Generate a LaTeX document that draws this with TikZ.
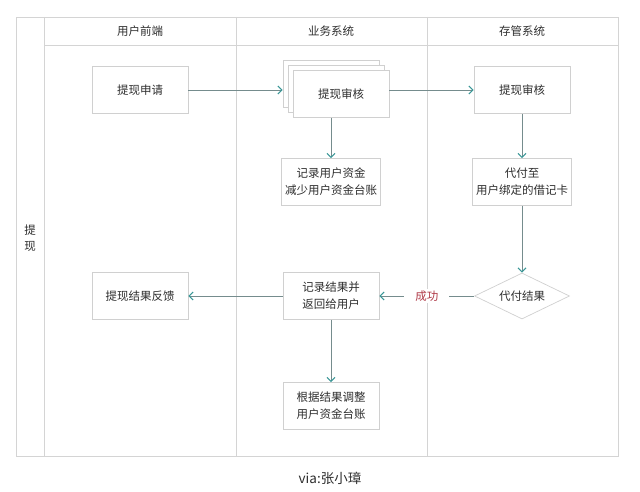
\documentclass[tikz,border=0pt]{standalone}
\usepackage{fontspec}
\setmainfont{Noto Sans CJK SC}
\usepackage{tikz}
\usetikzlibrary{positioning,calc,shapes,shadows,arrows.meta}

\definecolor{lanegray}{HTML}{D4D4D4}
\definecolor{boxgray}{HTML}{D0D0D0}
\definecolor{linegray}{HTML}{758C8D}
\definecolor{tipteal}{HTML}{3A9797}
\definecolor{textgray}{HTML}{2E2E2E}
\definecolor{okred}{HTML}{B03A48}

\begin{document}
\begin{tikzpicture}[x=1pt,y=-1pt,
            >={Straight Barb[length=4pt,width=8pt,color=tipteal,line width=1.1pt]},
            thick,main node/.style={rectangle,draw=boxgray,line width=0.7pt,fill=white,
              minimum width=96pt,minimum height=47pt,align=center,
              font=\fontsize{11.5}{17}\selectfont,text=textgray},
            flow/.style={->,draw=linegray,line width=0.8pt},
            lane/.style={draw=lanegray,line width=0.8pt}]

            \useasboundingbox (0,0) rectangle (640,492);

            % swimlanes
            \draw[lane] (16,17) rectangle (618,456);
            \draw[lane] (44,17) -- (44,456);
            \draw[lane] (44,45) -- (618,45);
            \draw[lane] (236,17) -- (236,456);
            \draw[lane] (427,17) -- (427,456);
            \node[font=\fontsize{11.5}{15}\selectfont,text=textgray] (h1) at (140,31) {用户前端};
            \node[font=\fontsize{11.5}{15}\selectfont,text=textgray] (h2) at (331,31) {业务系统};
            \node[font=\fontsize{11.5}{15}\selectfont,text=textgray] (h3) at (522,31) {存管系统};
            \node[font=\fontsize{11.5}{16}\selectfont,text=textgray,align=center] (h0) at (30,238) {提\\现};

            \node[main node] (1) at (140,90) {提现申请};
            \node[main node,double copy shadow={shadow xshift=-5pt,shadow yshift=5pt,
              fill=white,draw=boxgray,line width=0.7pt}] (2) at (341,94) {提现审核};
            \node[main node] (3) at (522,90) {提现审核};
            \node[main node] (4) at (331,182) {记录用户资金\\减少用户资金台账};
            \node[main node] (5) at (522,182) {代付至\\用户绑定的借记卡};
            \node[main node,diamond,aspect=2.07,inner sep=0pt,minimum width=95pt,
              minimum height=46pt] (6) at (522,296) {代付结果};
            \node[main node] (7) at (331,296) {记录结果并\\返回给用户};
            \node[main node] (8) at (140,296) {提现结果反馈};
            \node[main node] (9) at (331,406) {根据结果调整\\用户资金台账};

            \node[font=\fontsize{13.5}{16}\selectfont,text=textgray] (via) at (330,478) {via:张小璋};

            \path[every edge/.style={flow}]
            (1.east) edge ($(1.east -| 2.west)+(-10,0)$)
            (2.east |- 3.west) edge (3.west)
            (4.north |- 2.south) edge (4.north)
            (3) edge (5)
            (5) edge (6)
            (6) edge node[fill=white,inner xsep=11pt,inner ysep=2pt,text=okred,
              font=\fontsize{11.5}{15}\selectfont] {成功} (7)
            (7) edge (8)
            (7) edge (9);
          \end{tikzpicture}
\end{document}
